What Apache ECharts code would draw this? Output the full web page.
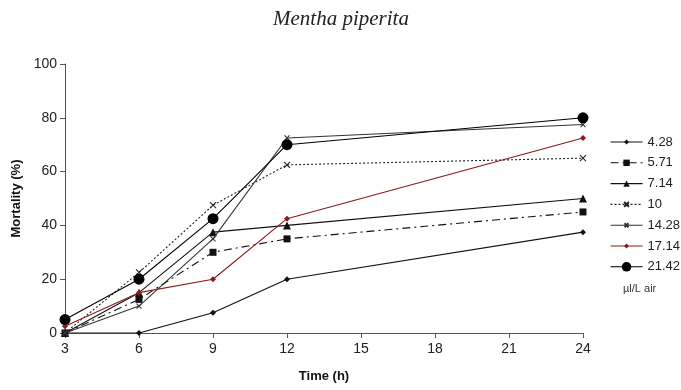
<!DOCTYPE html>
<html>
<head>
<meta charset="utf-8">
<script src="https://cdn.jsdelivr.net/npm/echarts@6/dist/echarts.min.js"></script>
<style>html,body{margin:0;padding:0;background:#fff}#c{width:681px;height:390px}</style>
</head>
<body>
<div id="c"></div>
<script>
const times = [3, 6, 9, 12, 24];
const concentrations = ['4.28', '5.71', '7.14', '10', '14.28', '17.14', '21.42'];
const s428 = [0, 0, 7.5, 20, 37.5];
const s571 = [0, 12.5, 30, 35, 45];
const s714 = [0, 15, 37.5, 40, 50];
const s10 = [0, 22.5, 47.5, 62.5, 65];
const s1428 = [0, 10, 35, 72.5, 77.5];
const s1714 = [2.5, 15, 20, 42.5, 72.5];
const s2142 = [5, 20, 42.5, 70, 80];
const xTicks = [3, 6, 9, 12, 15, 18, 21, 24];
const yTicks = [0, 20, 40, 60, 80, 100];

const values = [s428, s571, s714, s10, s1428, s1714, s2142];
const xPath = 'path://M0,0L10,10M10,0L0,10';
const styles = [
  {color: '#111', type: 'solid', symbol: 'diamond', size: 6, legendH: 6},
  {color: '#111', type: [8, 4, 2, 4], symbol: 'rect', size: 7, legendH: 8},
  {color: '#111', type: 'solid', symbol: 'triangle', size: 8, legendH: 8},
  {color: '#222', type: [2, 2], symbol: xPath, size: 6, stroke: true, legendH: 6},
  {color: '#333', type: 'solid', symbol: xPath, size: 5, stroke: true, legendH: 5},
  {color: '#8b1a1a', type: 'solid', symbol: 'diamond', size: 6, legendH: 6},
  {color: '#000', type: 'solid', symbol: 'circle', size: 11, legendH: 12}
];

const series = concentrations.map((name, i) => {
  const st = styles[i];
  return {
    name: name,
    type: 'line',
    data: times.map((t, j) => [t, values[i][j]]),
    symbol: st.symbol,
    symbolSize: st.size,
    showAllSymbol: true,
    lineStyle: {color: st.color, width: 1.1, type: st.type},
    itemStyle: st.stroke ? {color: '#fff', borderColor: st.color, borderWidth: 1.1} : {color: st.color, borderWidth: 0},
    emphasis: {disabled: true},
    animation: false,
    z: 2 + i
  };
});

const legends = concentrations.map((name, i) => ({
  orient: 'vertical',
  left: 605,
  top: 137 + i * 20.8 - 7,
  itemWidth: 32,
  itemHeight: styles[i].legendH,
  selectedMode: false,
  lineStyle: {width: 1.1},
  textStyle: {fontFamily: 'Liberation Sans', fontSize: 13, lineHeight: 14, color: '#222'},
  data: [name]
}));

const chart = echarts.init(document.getElementById('c'), null, {renderer: 'canvas'});
chart.setOption({
  backgroundColor: '#fff',
  animation: false,
  title: {
    text: 'Mentha piperita',
    left: 336, top: 4, textAlign: 'center',
    textStyle: {fontFamily: 'Liberation Serif', fontStyle: 'italic', fontWeight: 'normal', fontSize: 21, color: '#222'}
  },
  grid: {left: 65, right: 98, top: 64, bottom: 57},
  legend: legends,
  xAxis: {
    type: 'value', min: 3, max: 24, interval: 3,
    name: 'Time (h)', nameLocation: 'middle', nameGap: 37,
    nameTextStyle: {fontFamily: 'Liberation Sans', fontWeight: 'bold', fontSize: 13, color: '#111'},
    axisLine: {lineStyle: {color: '#555', width: 1}},
    axisTick: {show: true, inside: false, length: 5, lineStyle: {color: '#555'}},
    axisLabel: {fontFamily: 'Liberation Sans', fontSize: 14, color: '#222', margin: 9},
    splitLine: {show: false}
  },
  yAxis: {
    type: 'value', min: 0, max: 100, interval: 20,
    name: 'Mortality (%)', nameLocation: 'middle', nameGap: 37,
    nameTextStyle: {fontFamily: 'Liberation Sans', fontWeight: 'bold', fontSize: 13, color: '#111'},
    axisLine: {show: true, lineStyle: {color: '#555', width: 1}},
    axisTick: {show: true, inside: false, length: 5, lineStyle: {color: '#555'}},
    axisLabel: {fontFamily: 'Liberation Sans', fontSize: 14, color: '#222', margin: 8},
    splitLine: {show: false}
  },
  graphic: [{
    type: 'text', left: 623, top: 283,
    style: {text: 'µl/L air', fontFamily: 'Liberation Sans', fontSize: 11, fill: '#333'}
  }],
  series: series
});
</script>
</body>
</html>
